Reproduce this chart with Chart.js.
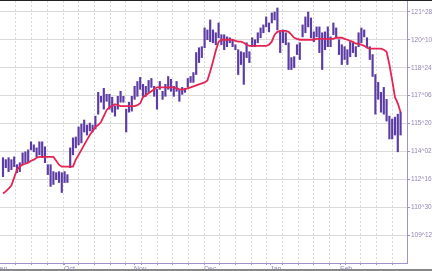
<!DOCTYPE html>
<html>
<head>
<meta charset="utf-8">
<script src="https://cdn.jsdelivr.net/npm/chart.js@4/dist/chart.umd.min.js"></script>
<style>
  html, body { margin: 0; padding: 0; background: #fff; }
  #wrap { width: 432px; height: 268px; border-top: 1px solid #222; border-bottom: 2px solid #888; }
</style>
</head>
<body>
<div id="wrap"><canvas id="chart" width="432" height="268"></canvas></div>
<script>
// daily highs / lows (price, decimal points)
const highs = [
  113.71,113.60,113.71,113.60,113.76,113.32,113.43,113.98,114.04,114.15,
  114.60,114.43,114.26,114.60,114.60,114.32,113.32,113.32,112.93,112.87,
  112.93,112.87,112.93,112.76,114.26,114.82,114.87,115.43,115.60,115.82,
  115.54,115.65,115.54,116.04,117.37,117.15,117.60,117.26,117.26,117.10,
  116.60,117.15,117.43,117.15,116.43,116.82,117.15,117.71,117.98,118.21,
  117.82,117.71,118.04,118.15,117.71,117.54,117.98,117.43,117.82,118.26,
  118.10,117.71,117.98,117.54,117.65,117.60,118.15,118.26,118.48,119.60,
  119.87,119.93,120.98,120.87,121.43,120.87,120.71,121.26,120.60,120.60,
  120.48,120.43,120.32,120.04,119.76,119.65,119.60,120.15,119.65,120.43,
  120.32,120.71,120.98,121.15,121.60,121.26,121.82,121.87,122.10,120.76,
  120.87,120.71,120.15,119.32,119.37,120.04,120.15,121.15,121.60,121.87,
  121.54,120.76,121.04,121.04,120.71,120.76,121.04,120.48,121.26,120.98,
  120.32,120.04,119.93,119.76,120.21,120.15,119.93,120.71,120.98,120.87,
  120.43,119.93,119.49,118.37,117.93,117.37,117.65,116.98,116.04,115.87,
  115.98,116.15,116.26
];
const lows = [
  112.65,113.15,112.93,113.04,113.21,112.87,112.93,113.32,113.43,113.43,
  114.15,114.04,113.76,113.87,113.71,113.43,112.76,112.10,112.21,112.48,
  112.32,111.76,112.32,112.32,113.15,113.87,114.26,114.43,114.54,115.15,
  114.98,115.21,115.15,115.32,116.15,116.82,116.43,116.87,116.43,116.26,
  116.04,116.43,116.82,116.82,115.15,116.26,116.32,116.98,117.15,117.54,
  117.15,117.15,117.37,117.65,117.15,116.43,117.54,116.98,117.15,117.54,
  117.43,117.15,117.43,116.87,117.26,117.37,117.65,117.93,117.93,118.37,
  119.04,119.32,119.87,120.32,120.21,120.15,120.04,120.43,120.04,119.76,
  119.93,120.15,119.93,119.76,118.37,118.93,117.82,119.32,119.04,119.93,
  119.93,120.15,120.43,120.71,121.04,120.76,121.26,121.43,120.87,119.60,
  120.15,120.04,118.65,118.65,118.76,119.49,119.21,120.48,120.71,121.04,
  120.43,120.21,120.48,119.60,118.65,119.76,119.93,119.93,120.60,120.43,
  119.49,118.93,119.21,118.93,119.37,119.60,119.37,119.93,120.15,120.48,
  119.87,119.21,118.26,116.15,116.98,116.26,116.15,115.76,114.76,114.76,
  114.98,114.04,114.98
];
// red trend line
const trend = [
  111.71,111.82,111.98,112.15,112.60,113.04,113.21,113.32,113.37,113.43,
  113.54,113.60,113.71,113.76,113.76,113.76,113.76,113.76,113.76,113.54,
  113.32,113.21,113.21,113.21,113.21,113.21,113.60,113.87,114.15,114.43,
  114.71,114.98,115.21,115.43,115.54,115.71,116.04,116.37,116.54,116.60,
  116.71,116.65,116.60,116.60,116.60,116.60,116.60,116.60,116.65,116.76,
  117.10,117.21,117.32,117.43,117.54,117.65,117.65,117.65,117.65,117.65,
  117.65,117.65,117.60,117.54,117.54,117.54,117.60,117.65,117.71,117.76,
  117.82,117.87,117.93,118.04,118.54,119.10,119.71,120.21,120.32,120.32,
  120.32,120.32,120.32,120.26,120.21,120.21,120.15,120.04,119.98,119.98,
  119.98,119.98,119.98,119.98,119.98,120.04,120.21,120.60,120.76,120.82,
  120.82,120.82,120.76,120.60,120.43,120.37,120.32,120.32,120.32,120.32,
  120.32,120.32,120.37,120.37,120.37,120.37,120.37,120.37,120.37,120.43,
  120.43,120.43,120.37,120.32,120.26,120.21,120.10,120.10,120.04,119.98,
  119.87,119.82,119.82,119.82,119.82,119.82,119.76,119.65,118.93,118.04,
  117.10,116.76,116.26
];

const priceTicks = [109.375,110.9375,112.5,114.0625,115.625,117.1875,118.75,120.3125,121.875];
const priceLabels = ['109^12','110^30','112^16','114^02','115^20','117^06','118^24','120^10','121^28'];

const months = ['Sep','Oct','Nov','Dec','Jan','Feb'];
const monthPos = [-2.9, 21.8, 46.8, 71.8, 95.4, 120.4];

// weekly vertical grid + month label ticks on one axis
const xTicks = [];
for (let k = 0; k < 25; k++) xTicks.push({ value: 4.64 + 5.6 * k, month: null });
monthPos.forEach((v, i) => xTicks.push({ value: v, month: months[i] }));

const labelColor = '#9486b4';
const axisColor = '#a192cc';
const gridColor = '#dadada';

const noPad = s => { s.paddingLeft = 0; s.paddingRight = 0; s.paddingTop = 0; s.paddingBottom = 0; };

new Chart(document.getElementById('chart'), {
  type: 'bar',
  data: {
    datasets: [
      {
        type: 'line',
        data: trend.map((v, i) => ({ x: i, y: v })),
        borderColor: '#e42452',
        borderWidth: 1.8,
        pointRadius: 0,
        tension: 0,
        order: 0
      },
      {
        type: 'bar',
        data: lows.map((lo, i) => ({ x: i, y: [lo, highs[i]] })),
        backgroundColor: '#5c3ca4',
        barThickness: 1.5,
        grouped: false,
        order: 1
      }
    ]
  },
  options: {
    responsive: false,
    animation: false,
    devicePixelRatio: 1,
    layout: { padding: 0 },
    plugins: { legend: { display: false }, tooltip: { enabled: false } },
    scales: {
      x: {
        type: 'linear',
        offset: false,
        min: -1.07,
        max: 144.29,
        afterBuildTicks: s => { s.ticks = xTicks.map(t => ({ value: t.value, month: t.month })); },
        afterFit: s => { s.height = 6; noPad(s); },
        ticks: {
          color: labelColor,
          font: { family: 'Liberation Sans', size: 7 },
          padding: 0,
          align: 'start',
          maxRotation: 0,
          autoSkip: false,
          callback: (v, i) => xTicks[i].month || ''
        },
        grid: {
          offset: false,
          color: c => (c.tick && c.tick.month) ? 'rgba(0,0,0,0)' : gridColor,
          borderDash: [1, 2],
          tickLength: 2,
          tickColor: axisColor,
          tickBorderDash: []
        },
        border: { color: axisColor, dash: [2, 2] }
      },
      y: {
        position: 'right',
        min: 107.81,
        max: 122.49,
        afterBuildTicks: s => { s.ticks = priceTicks.map(v => ({ value: v })); },
        afterFit: s => { s.width = 25; noPad(s); },
        ticks: {
          color: labelColor,
          font: { family: 'Liberation Sans', size: 6.5 },
          padding: 1,
          callback: (v, i) => priceLabels[i]
        },
        grid: { color: gridColor, borderDash: [1, 2], tickLength: 3, tickColor: axisColor, tickBorderDash: [] },
        border: { color: axisColor, width: 1 }
      }
    }
  }
});
</script>
</body>
</html>
